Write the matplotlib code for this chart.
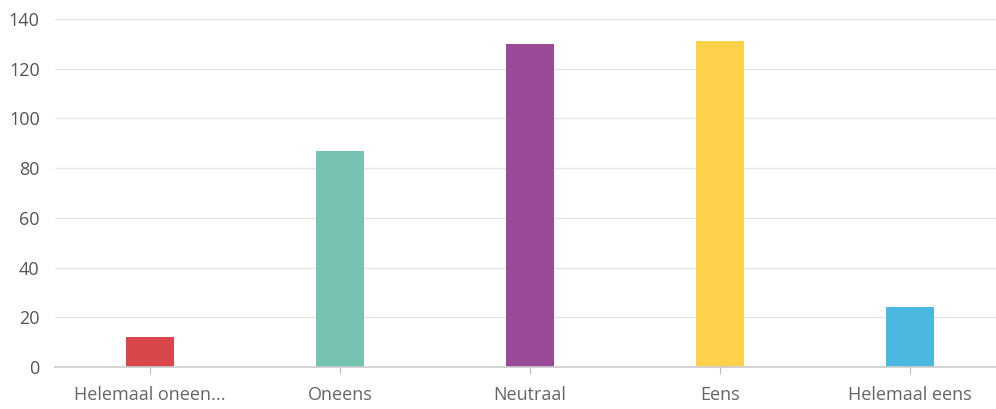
import matplotlib
matplotlib.use("Agg")
import matplotlib.pyplot as plt

categories = ["Helemaal oneen...", "Oneens", "Neutraal", "Eens", "Helemaal eens"]
values = [12, 87, 130, 131, 24]
colors = ["#D9474A", "#76C3B2", "#9A4A96", "#FDD14A", "#4BB8E0"]
yticks = [0, 20, 40, 60, 80, 100, 120, 140]

plt.rcParams['font.family'] = ['Open Sans', 'DejaVu Sans']

fig = plt.figure(figsize=(9.96, 4.09), dpi=100)
ax = fig.add_axes([55/996, 1 - 367/409, (996-55)/996, (367-19)/409])

x = list(range(len(categories)))
ax.bar(x, values, width=0.25, color=colors, zorder=3)

ax.set_ylim(0, 140)
ax.set_xlim(-0.5, (996-150)/190)
ax.set_yticks(yticks)
ax.set_xticks(x)
ax.set_xticklabels(categories)

ax.grid(axis='y', color='#e6e6e6', linewidth=1, zorder=0)
for s in ['top', 'right', 'left']:
    ax.spines[s].set_visible(False)
ax.spines['bottom'].set_color('#cccccc')
ax.spines['bottom'].set_linewidth(1.2)
ax.spines['bottom'].set_zorder(4)

ax.tick_params(axis='y', length=0, pad=11, labelsize=13, labelcolor='#555555')
ax.tick_params(axis='x', length=5, color='#bbbbbb', pad=9, labelsize=13, labelcolor='#666666')

fig.savefig("out.png", dpi=100)
